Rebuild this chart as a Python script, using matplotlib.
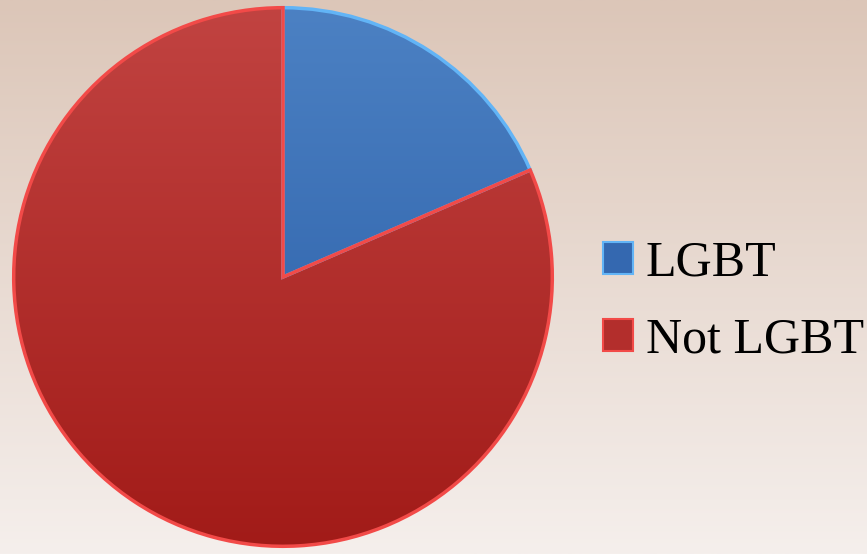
import numpy as np
import matplotlib
matplotlib.use("Agg")
import matplotlib.pyplot as plt
from matplotlib.colors import LinearSegmentedColormap

labels = ["LGBT", "Not LGBT"]
shares = [18.5, 81.5]
tops = ["#4d82c4", "#c24442"]
bottoms = ["#2458a2", "#a11a17"]
edges = ["#62b4f6", "#f24a48"]

fig = plt.figure(figsize=(8.67, 5.54), dpi=100)

# background gradient
bg = fig.add_axes([0, 0, 1, 1])
bg_cmap = LinearSegmentedColormap.from_list("bg", ["#f5efec", "#dcc6b8"])
bg.imshow(np.linspace(0, 1, 256).reshape(-1, 1), cmap=bg_cmap, aspect="auto",
          origin="lower", extent=[0, 1, 0, 1])
bg.axis("off")

ax = fig.add_axes([11 / 867, 5 / 554, 544 / 867, 544 / 554])
wedges, _ = ax.pie(shares, startangle=90, counterclock=False, radius=1,
                   colors=tops, wedgeprops=dict(edgecolor="none"))
for w, c1, c2, ec in zip(wedges, tops, bottoms, edges):
    cmap = LinearSegmentedColormap.from_list("g", [c2, c1])
    im = ax.imshow(np.linspace(0, 1, 256).reshape(-1, 1), cmap=cmap,
                   extent=[-1.05, 1.05, -1.05, 1.05], origin="lower",
                   aspect="auto", zorder=2)
    im.set_clip_path(w)
    w.set_facecolor("none")
    w.set_edgecolor(ec)
    w.set_linewidth(2.5)
    w.set_zorder(3)
ax.set_xlim(-1.01, 1.01)
ax.set_ylim(-1.01, 1.01)
ax.set_aspect("equal")
ax.axis("off")

handles = [plt.Rectangle((0, 0), 1, 1, facecolor=c, edgecolor=e, linewidth=1.5)
           for c, e in zip(["#3468b0", "#b32e2c"], edges)]
fig.legend(handles, labels, loc="center left", bbox_to_anchor=(0.695, 0.455),
           frameon=False, prop=dict(family="Liberation Serif", size=36),
           handlelength=0.6, handleheight=0.6, handletextpad=0.26,
           labelspacing=0.6, borderaxespad=0, borderpad=0)

fig.savefig("out.png", dpi=100)
